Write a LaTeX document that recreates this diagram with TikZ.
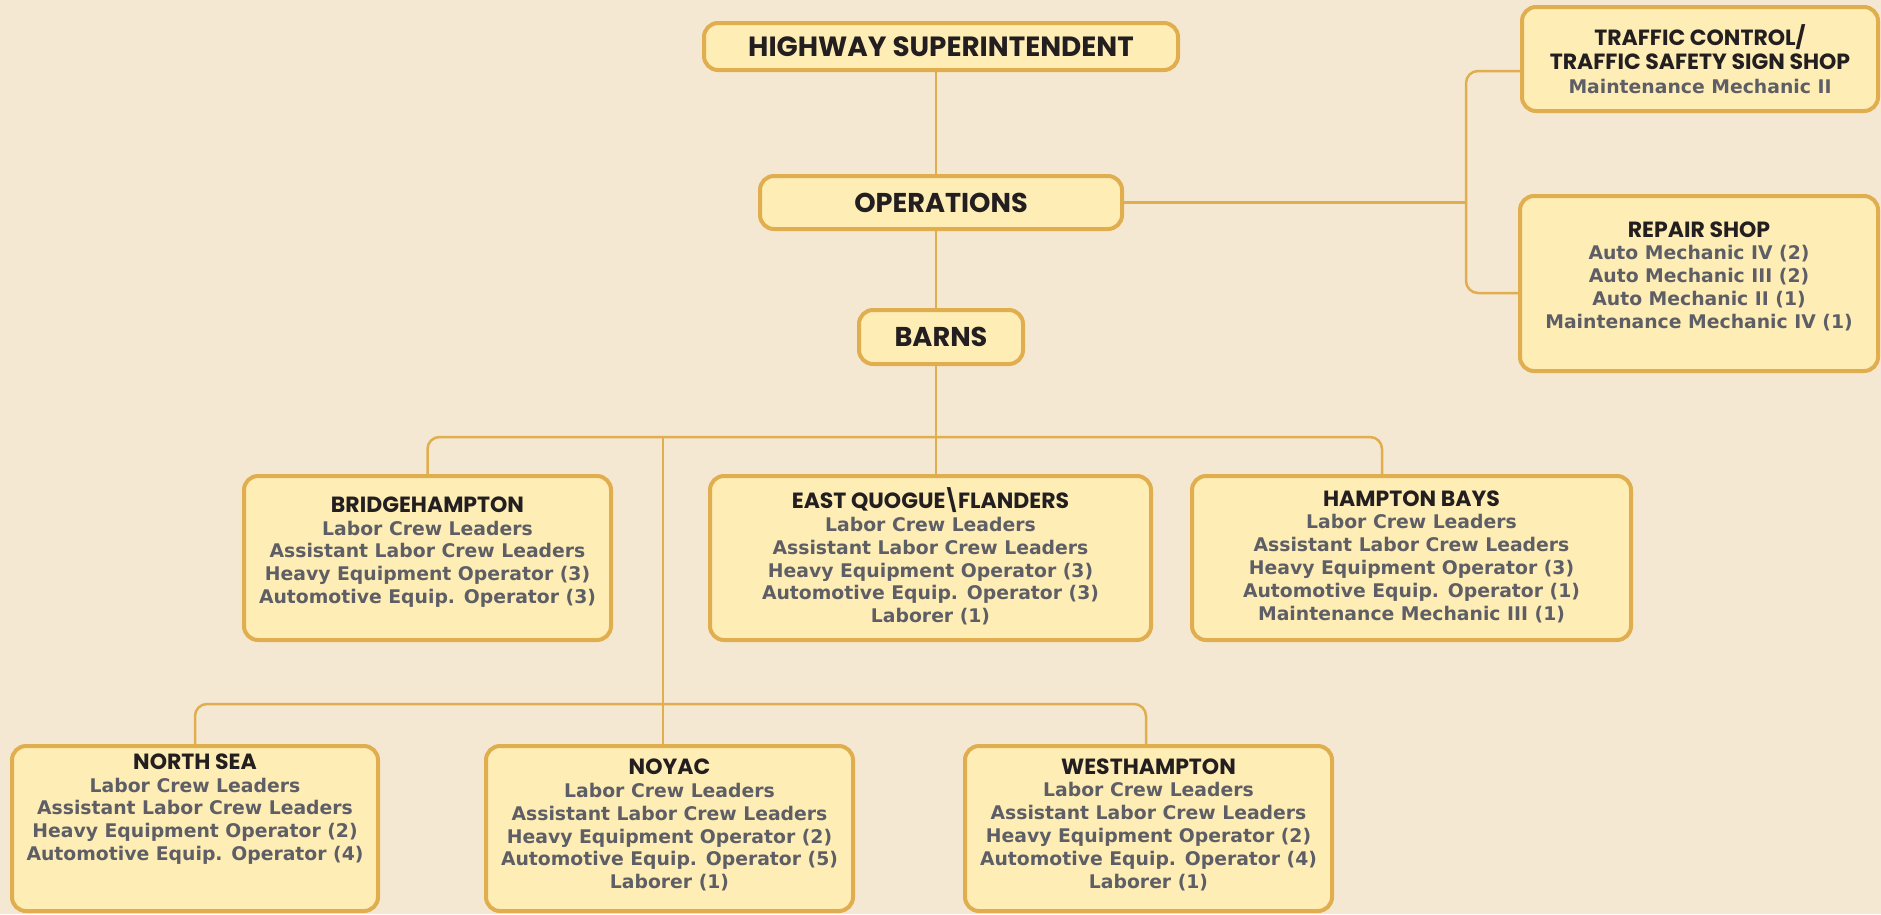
\documentclass[tikz,border=0pt]{standalone}
\usepackage{fontspec}
\usetikzlibrary{calc}
\newfontfamily\hfont{Poppins}
\newfontfamily\bfont{DejaVu Sans}
\definecolor{bg}{HTML}{F5E8D2}
\definecolor{boxfill}{HTML}{FEEDB5}
\definecolor{boxline}{HTML}{E1AE4F}
\definecolor{ink}{HTML}{231F20}
\definecolor{sub}{HTML}{5E5F66}
\tikzset{
  box/.style={draw=boxline, fill=boxfill, line width=4pt, rounded corners=14pt, inner sep=0pt},
  bigtitle/.style={font=\hfont\bfseries\fontsize{27.2}{30}\selectfont, text=ink},
  txt/.style={align=center, inner sep=0pt, font=\bfont\bfseries\fontsize{18.8}{22.8}\selectfont, text=sub},
  conn/.style={draw=boxline, line width=2.5pt, rounded corners=12pt},
}
\newcommand{\hd}[1]{{\hfont\bfseries\fontsize{22}{22.8}\selectfont\color{ink}#1}}
\begin{document}
\begin{tikzpicture}[x=1pt,y=-1pt]
\useasboundingbox (0,0) rectangle (1881,914);
\fill[bg] (0,0) rectangle (1881,914);

% top chain
\node[box, bigtitle, font=\hfont\bfseries\fontsize{27.8}{30}\selectfont, minimum width=474pt, minimum height=47pt] (hw) at (941,46.5) {HIGHWAY SUPERINTENDENT};
\node[box, bigtitle, minimum width=362pt, minimum height=53pt] (op) at (941,202.5) {OPERATIONS};
\node[box, bigtitle, minimum width=164pt, minimum height=54pt] (ba) at (941,337) {BARNS};

% right shops
\node[box, minimum width=356pt, minimum height=104pt] (tr) at (1700,59) {};
\node[txt] (trt) at ($(tr.center)+(0,0)$) {\hd{TRAFFIC CONTROL/}\\[1.5pt]\hd{TRAFFIC SAFETY SIGN SHOP}\\[1.5pt]Maintenance Mechanic II};
\node[box, minimum width=358pt, minimum height=175pt] (rp) at (1699,283.5) {};
\node[txt] (rpt) at ($(rp.center)+(0,-7.5)$) {\hd{REPAIR SHOP}\\Auto Mechanic IV (2)\\Auto Mechanic III (2)\\Auto Mechanic II (1)\\Maintenance Mechanic IV (1)};

% barns row 1
\node[box, minimum width=367pt, minimum height=164pt] (bh) at (427.5,558) {};
\node[txt] (bht) at ($(bh.center)+(0,-6)$) {\hd{BRIDGEHAMPTON}\\Labor Crew Leaders\\Assistant Labor Crew Leaders\\Heavy Equipment Operator (3)\\Automotive Equip. Operator (3)};
\node[box, minimum width=441pt, minimum height=164pt] (eq) at (930.5,558) {};
\node[txt] (eqt) at ($(eq.center)+(0,-1.5)$) {\hd{EAST QUOGUE\kern-2.5pt\textbackslash\kern-2.5pt FLANDERS}\\Labor Crew Leaders\\Assistant Labor Crew Leaders\\Heavy Equipment Operator (3)\\Automotive Equip. Operator (3)\\Laborer (1)};
\node[box, minimum width=439pt, minimum height=164pt] (hb) at (1411.5,558) {};
\node[txt] (hbt) at ($(hb.center)+(0,-1.5)$) {\hd{HAMPTON BAYS}\\Labor Crew Leaders\\Assistant Labor Crew Leaders\\Heavy Equipment Operator (3)\\Automotive Equip. Operator (1)\\Maintenance Mechanic III (1)};

% barns row 2
\node[box, minimum width=366pt, minimum height=165pt] (ns) at (195,828.5) {};
\node[txt] (nst) at ($(ns.center)+(0,-19.5)$) {\hd{NORTH SEA}\\Labor Crew Leaders\\Assistant Labor Crew Leaders\\Heavy Equipment Operator (2)\\Automotive Equip. Operator (4)};
\node[box, minimum width=367pt, minimum height=165pt] (ny) at (669.5,828.5) {};
\node[txt] (nyt) at ($(ny.center)+(0,-3.5)$) {\hd{NOYAC}\\Labor Crew Leaders\\Assistant Labor Crew Leaders\\Heavy Equipment Operator (2)\\Automotive Equip. Operator (5)\\Laborer (1)};
\node[box, minimum width=367pt, minimum height=165pt] (wh) at (1148.5,828.5) {};
\node[txt] (wht) at ($(wh.center)+(0,-4)$) {\hd{WESTHAMPTON}\\Labor Crew Leaders\\Assistant Labor Crew Leaders\\Heavy Equipment Operator (2)\\Automotive Equip. Operator (4)\\Laborer (1)};

% junction points
\coordinate (spine) at (936,437);
\coordinate (bus2) at (663,704);
\coordinate (brk) at (1466,202.5);

% connectors
\draw[conn] (hw.south -| spine) -- (op.north -| spine);
\draw[conn] (op.south -| spine) -- (ba.north -| spine);
\draw[conn] (ba.south -| spine) -- (eq.north -| spine);
\draw[conn] (op.east) -- (brk);
\draw[conn] ($(tr.west)+(0,12)$) -| (brk) |- ($(rp.west)+(0,9.5)$);
\draw[conn] (bh.north) |- (spine) -| ($(hb.north)+(-29.5,0)$);
\draw[conn] (spine -| bus2) -- ($(ny.north)+(-6.5,0)$);
\draw[conn] (ns.north) |- (bus2) -| ($(wh.north)+(-2.5,0)$);
\end{tikzpicture}
\end{document}
